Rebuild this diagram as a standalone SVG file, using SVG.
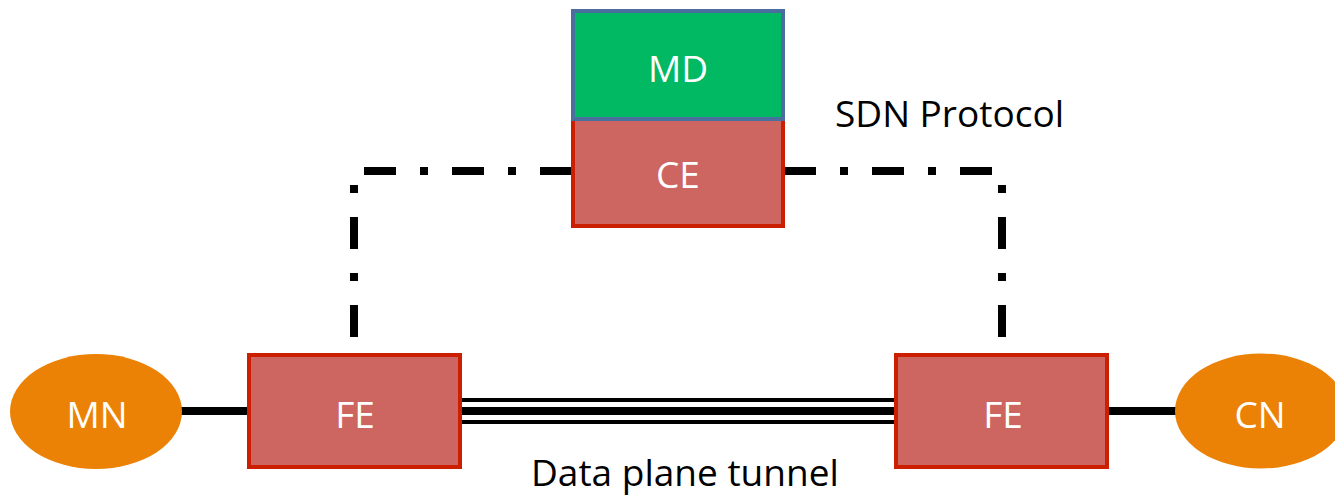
<svg xmlns="http://www.w3.org/2000/svg" width="1335" height="496" viewBox="0 0 1335 496">
  <style>
    .lbl { font-family: "Open Sans", "Noto Sans", "Liberation Sans", sans-serif; font-size: 37px; }
    .in { fill: #ffffff; text-anchor: middle; }
    .out { fill: #000000; }
    .box { fill: #CD6661; stroke: #CC1E00; stroke-width: 4; }
    .md { fill: #00B962; stroke: #4A6E9E; stroke-width: 4; }
    .host { fill: #EC8205; }
    .ctrl { fill: none; stroke: #000; stroke-width: 8; stroke-dasharray: 32 24 8 24; }
    .link { stroke: #000; stroke-width: 8; }
    .thin { stroke: #000; stroke-width: 4; }
  </style>

  <!-- connectors -->
  <g id="connectors">
    <path class="ctrl" d="M354,337 V171 H572"/>
    <path class="ctrl" d="M1002,337 V171 H784"/>
    <line class="link" x1="180" y1="411" x2="249" y2="411"/>
    <line class="link" x1="1107" y1="411" x2="1177" y2="411"/>
    <!-- data plane tunnel: triple line -->
    <g id="tunnel">
      <line class="thin" x1="462" y1="400" x2="894" y2="400"/>
      <line class="link" x1="462" y1="411" x2="894" y2="411"/>
      <line class="thin" x1="462" y1="422" x2="894" y2="422"/>
    </g>
  </g>

  <g id="ce">
    <rect class="box" x="573" y="119" width="210" height="107"/>
    <text class="lbl in" x="678" y="188">CE</text>
  </g>

  <g id="md">
    <rect class="md" x="573" y="11" width="210" height="108"/>
    <text class="lbl in" x="678" y="82">MD</text>
  </g>

  <g id="fe-left">
    <rect class="box" x="249" y="355" width="211" height="112"/>
    <text class="lbl in" x="355" y="428">FE</text>
  </g>

  <g id="fe-right">
    <rect class="box" x="896" y="355" width="211" height="112"/>
    <text class="lbl in" x="1003" y="428">FE</text>
  </g>

  <g id="mn">
    <ellipse class="host" cx="96" cy="411.5" rx="86" ry="57.5"/>
    <text class="lbl in" x="97" y="428">MN</text>
  </g>

  <g id="cn">
    <ellipse class="host" cx="1261" cy="411" rx="86" ry="57.5"/>
    <text class="lbl in" x="1260" y="428">CN</text>
  </g>

  <text class="lbl out" x="835" y="127">SDN Protocol</text>
  <text class="lbl out" x="531" y="486">Data plane tunnel</text>
</svg>
